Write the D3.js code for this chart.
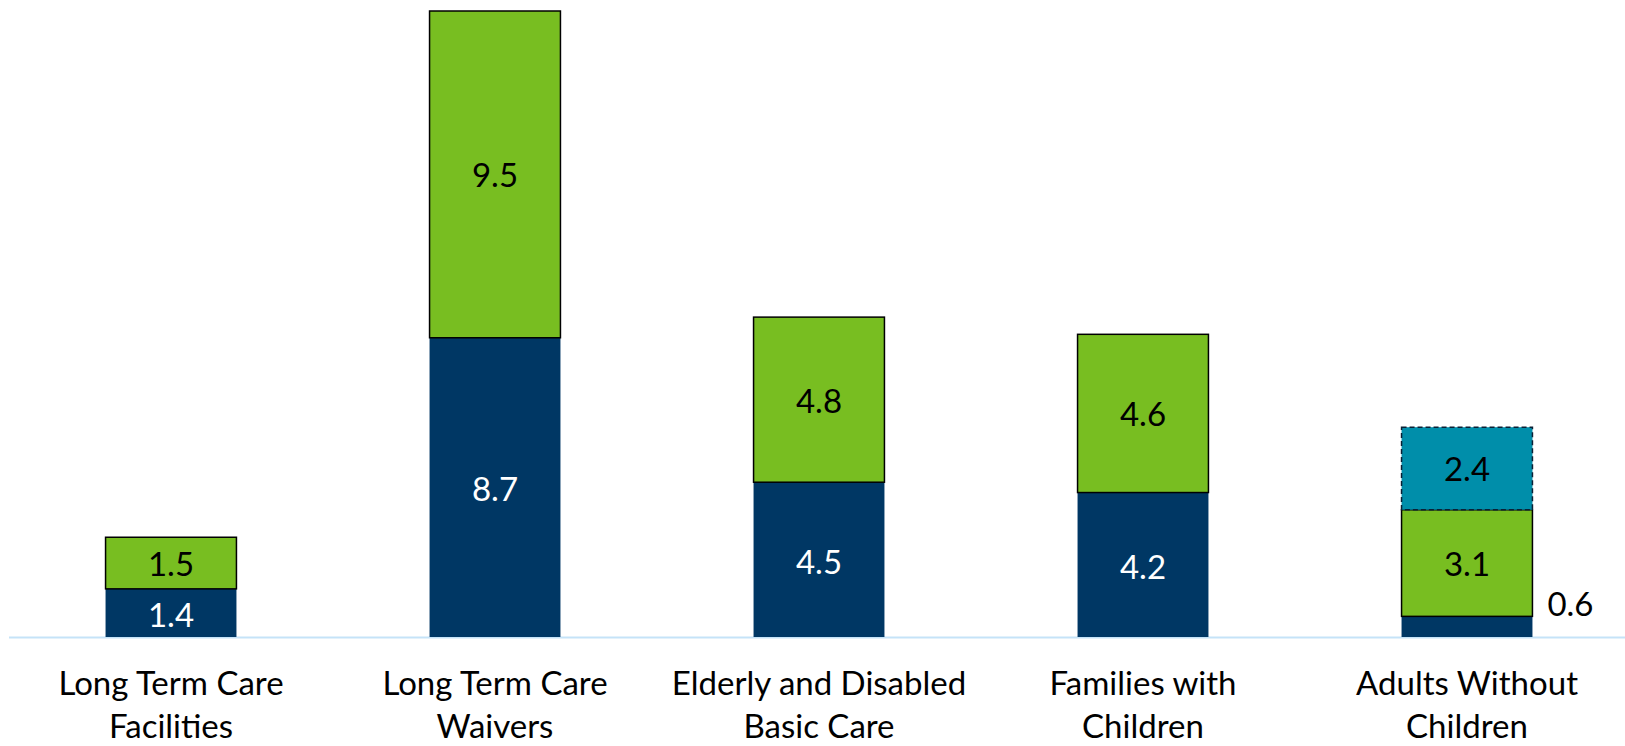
<!DOCTYPE html>
<html>
<head>
<meta charset="utf-8">
<script src="https://cdn.jsdelivr.net/npm/d3@7/dist/d3.min.js"></script>
<style>
html,body{margin:0;padding:0;background:#fff;}
svg{display:block;}
text{font-family:Lato,"Open Sans",sans-serif;}
</style>
</head>
<body>
<svg id="chart" width="1625" height="746"></svg>
<script>
const categories = [
  ["Long Term Care", "Facilities"],
  ["Long Term Care", "Waivers"],
  ["Elderly and Disabled", "Basic Care"],
  ["Families with", "Children"],
  ["Adults Without", "Children"]
];
const navyValues  = [1.4, 8.7, 4.5, 4.2, 0.6];
const greenValues = [1.5, 9.5, 4.8, 4.6, 3.1];
const tealValues  = [0, 0, 0, 0, 2.4];

const colors = {navy: "#003764", green: "#78be21", teal: "#008eaa"};
const FS = 33;

const svg = d3.select("#chart");
const x = d3.scaleBand().domain(d3.range(categories.length))
  .range([9, 1629]).paddingInner(0.596).paddingOuter(0.298);
const y = d3.scaleLinear().domain([0, 18.2]).range([637, 11]);

const data = categories.map((c, i) => ({i, c, navy: navyValues[i], green: greenValues[i], teal: tealValues[i]}));

svg.append("line").attr("x1", 9).attr("x2", 1625)
  .attr("y1", y(0) + 0.5).attr("y2", y(0) + 0.5)
  .attr("stroke", "#c5e3f8").attr("stroke-width", 2);

const g = svg.append("g");
data.forEach(d => {
  const x0 = x(d.i), w = x.bandwidth(), cx = x0 + w / 2;
  g.append("rect").attr("x", x0).attr("width", w)
    .attr("y", y(d.navy)).attr("height", y(0) - y(d.navy))
    .attr("fill", colors.navy);
  g.append("rect").attr("x", x0).attr("width", w)
    .attr("y", y(d.navy + d.green)).attr("height", y(d.navy) - y(d.navy + d.green))
    .attr("fill", colors.green).attr("stroke", "#000").attr("stroke-width", 1.5);
  if (d.teal > 0) {
    const top = d.navy + d.green + d.teal;
    g.append("rect").attr("x", x0).attr("width", w)
      .attr("y", y(top)).attr("height", y(d.navy + d.green) - y(top))
      .attr("fill", colors.teal).attr("stroke", "#0b2035").attr("stroke-width", 1.5)
      .attr("stroke-dasharray", "5,3");
    g.append("text").attr("x", cx).attr("y", (y(top) + y(d.navy + d.green)) / 2)
      .attr("text-anchor", "middle").attr("dominant-baseline", "central")
      .attr("font-size", FS).attr("fill", "#000").text(d.teal.toFixed(1));
  }
  g.append("text").attr("x", cx).attr("y", (y(d.navy + d.green) + y(d.navy)) / 2)
    .attr("text-anchor", "middle").attr("dominant-baseline", "central")
    .attr("font-size", FS).attr("fill", "#000").text(d.green.toFixed(1));
  if (d.navy >= 1) {
    g.append("text").attr("x", cx).attr("y", (y(d.navy) + y(0)) / 2 + 1)
      .attr("text-anchor", "middle").attr("dominant-baseline", "central")
      .attr("font-size", FS).attr("fill", "#fff").text(d.navy.toFixed(1));
  } else {
    g.append("text").attr("x", x0 + w + 38).attr("y", (y(d.navy) + y(0)) / 2 - 24)
      .attr("text-anchor", "middle").attr("dominant-baseline", "central")
      .attr("font-size", FS).attr("fill", "#000").text(d.navy.toFixed(1));
  }
  d.c.forEach((line, k) => {
    g.append("text").attr("x", cx).attr("y", 695 + k * 43)
      .attr("text-anchor", "middle")
      .attr("font-size", FS).attr("fill", "#000").text(line);
  });
});
</script>
</body>
</html>
